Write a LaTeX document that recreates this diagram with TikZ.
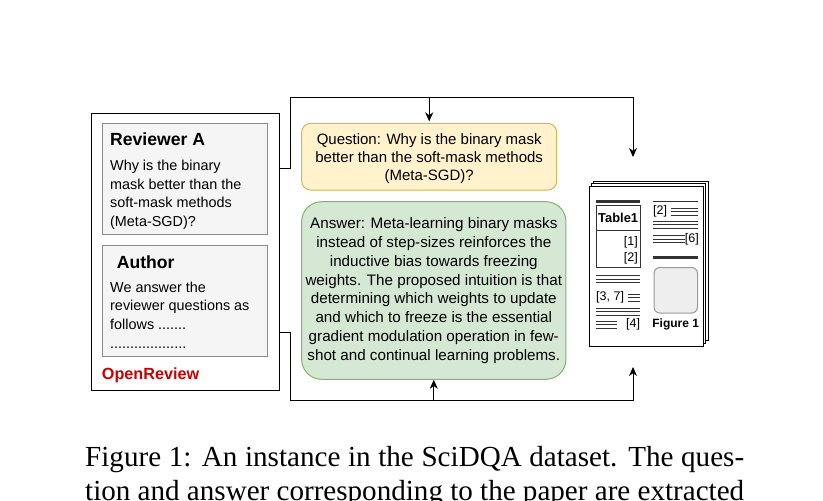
\documentclass[tikz,border=0pt]{standalone}
\usepackage{fontspec}
\setmainfont{Liberation Sans}
\newfontfamily\capfont{Liberation Serif}
\usetikzlibrary{arrows.meta}
\definecolor{qfill}{HTML}{FFF2CC}
\definecolor{qdraw}{HTML}{D6B656}
\definecolor{afill}{HTML}{D5E8D4}
\definecolor{adraw}{HTML}{82B366}
\definecolor{gfill}{HTML}{F5F5F5}
\definecolor{gdraw}{HTML}{8C8C8C}
\definecolor{orred}{HTML}{CC0000}
\definecolor{figfill}{HTML}{EEEEEE}
\definecolor{figdraw}{HTML}{9A9A9A}
\definecolor{inkline}{HTML}{333333}
\begin{document}
\begin{tikzpicture}[x=1pt,y=-1pt,
  outerbox/.style={draw=black, line width=1pt, minimum width=188, minimum height=277, inner sep=0},
  graybox/.style={draw=gdraw, fill=gfill, line width=1pt, minimum width=165.7, minimum height=111, inner sep=0},
  headtxt/.style={font={\fontsize{17.6}{20}\selectfont\bfseries}, inner sep=0, anchor=base west},
  bodytxt/.style={font={\fontsize{14.4}{18.6}\selectfont}, align=left, inner sep=0, anchor=west},
  orlabel/.style={font={\fontsize{16.2}{19}\selectfont\bfseries}, text=orred, inner sep=0, anchor=base west},
  qbox/.style={draw=qdraw, fill=qfill, line width=1pt, rounded corners=9, minimum width=255, minimum height=66.7, inner sep=0},
  qtext/.style={inner sep=0, align=center, font={\fontsize{15}{18}\selectfont}},
  abox/.style={draw=adraw, fill=afill, line width=1pt, rounded corners=20, minimum width=264.3, minimum height=177.6, inner sep=0, align=center, font={\fontsize{15.2}{18.8}\selectfont}},
  conn/.style={draw=black, line width=0.85pt, -{Stealth[length=9pt,width=8pt,inset=2.8pt]}},
  page/.style={draw=black, fill=white, line width=1pt, minimum width=114.3, minimum height=159.3, inner sep=0},
  ptxt/.style={font={\fontsize{12.5}{14}\selectfont}, inner sep=0},
  pbold/.style={font={\fontsize{12.9}{14}\selectfont\bfseries}, inner sep=0},
  pline/.style={draw=inkline, line width=0.9pt},
  thickline/.style={draw=inkline, line width=2.2pt},
  captxt/.style={font={\capfont\fontsize{29.1}{34}\selectfont}, inner sep=0, anchor=base west}
]
\clip (0,0) rectangle (823,501);
\fill[white] (0,0) rectangle (823,501);

% OpenReview panel
\node[outerbox] (orbox) at (185,251.5) {};
\node[graybox] (revbox) at (184.85,178.8) {};
\node[graybox] (autbox) at (184.85,301.2) {};
\node[headtxt] (revhead) at (110,145) {Reviewer A};
\node[bodytxt] (revtext) at (110,194.8) {Why is the binary\\mask better than the\\soft-mask methods\\(Meta-SGD)?};
\node[headtxt] (authead) at (116.7,268.3) {Author};
\node[bodytxt] (auttext) at (110,315) {We answer the\\reviewer questions as\\follows .......\\...................};
\node[orlabel] (orlbl) at (101.7,379.3) {OpenReview};

% Question and answer
\node[qbox] (q) at (429.2,156.7) {};
\node[qtext] (qt) at (429.2,158.6) {Question: Why is the binary mask\\better than the soft-mask methods\\(Meta-SGD)?};
\node[abox] (a) at (433.8,290.5) {Answer: Meta-learning binary masks\\instead of step-sizes reinforces the\\inductive bias towards freezing\\weights. The proposed intuition is that\\determining which weights to update\\and which to freeze is the essential\\gradient modulation operation in few-\\shot and continual learning problems.};

% Paper stack
\node[page] (pg3) at (650.95,260.75) {};
\node[page] (pg2) at (648.55,263.55) {};
\node[page] (pg1) at (646.15,266.35) {};

% connectors
\coordinate (tl) at (290,97);
\coordinate (ptop) at (633,157);
\coordinate (bl) at (290,400);
\coordinate (pbot) at (633,367);
\draw[conn] (orbox.east |- 0,168) -| (tl) -| (ptop);
\draw[conn, shorten >=1.5pt] (tl -| q.north) -- (q.north);
\draw[conn] (orbox.east |- 0,332) -| (bl) -| (pbot);
\draw[conn] (bl -| a.south) -- (a.south);

% paper contents: left column
\draw[thickline] (596,201.5) -- (640.3,201.5);
\node[draw=inkline, line width=1pt, minimum width=44.3, minimum height=62.3, inner sep=0] (tbl) at (618.15,236.15) {};
\draw[pline] (tbl.west |- 0,230) -- (tbl.east |- 0,230);
\node[pbold] (tbltitle) at (618.15,217.5) {Table1};
\node[ptxt, anchor=east] (r1) at (638,242) {[1]};
\node[ptxt, anchor=east] (r2) at (638,258.5) {[2]};
\foreach \y in {275.5,279,282.5} \draw[pline] (596,\y) -- (640.3,\y);
\node[ptxt, anchor=west] (r37) at (596,297.5) {[3, 7]};
\foreach \y in {294,297.5,301} \draw[pline] (628.3,\y) -- (640.3,\y);
\foreach \y in {308,311.5,315} \draw[pline] (596,\y) -- (640.3,\y);
\foreach \y in {321,324.5,328} \draw[pline] (596,\y) -- (617,\y);
\node[ptxt, anchor=east] (r4) at (640.3,324.5) {[4]};

% paper contents: right column
\draw[pline] (653,201) -- (698,201);
\node[ptxt, anchor=west] (rr2) at (653,211) {[2]};
\foreach \y in {208,211.5,215} \draw[pline] (671,\y) -- (698,\y);
\foreach \y in {221,224.5,228} \draw[pline] (653,\y) -- (698,\y);
\foreach \y in {235.5,239,242.5} \draw[pline] (653,\y) -- (684.5,\y);
\node[ptxt, anchor=east] (rr6) at (699,239.5) {[6]};
\draw[thickline] (653,257.5) -- (698,257.5);
\node[draw=figdraw, fill=figfill, rounded corners=6, line width=1pt, minimum width=43.5, minimum height=45.5, inner sep=0] (figbox) at (675.75,290.25) {};
\node[font={\fontsize{12}{14}\selectfont\bfseries}, inner sep=0] (figlbl) at (675.75,324) {Figure 1};

% caption
\node[captxt] (cap1) at (85,466.7) {\makebox[659pt][s]{Figure 1: An instance in the SciDQA dataset. The ques-}};
\node[captxt] (cap2) at (85,500.5) {\makebox[659pt][s]{tion and answer corresponding to the paper are extracted}};
\end{tikzpicture}
\end{document}
